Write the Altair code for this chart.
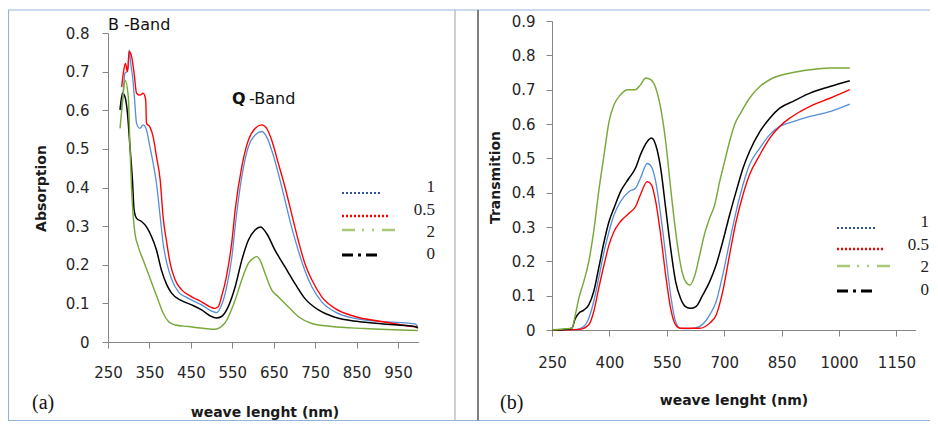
import altair as alt
import pandas as pd

# ---------------- data: panel (a) absorption ----------------
a_blue_nm = [281, 285, 291, 296, 299, 301, 305, 310, 314, 319, 327, 335, 343, 351, 359, 367, 376, 383, 392, 404,
             420, 444, 476, 500, 512, 524, 536, 549, 557, 573, 589, 605, 621, 633, 645, 661, 677, 693, 709, 725,
             742, 766, 798, 846, 910, 959, 991, 998]
a_blue_v = [0.60, 0.627, 0.696, 0.70, 0.713, 0.756, 0.72, 0.68, 0.63, 0.566, 0.553, 0.562, 0.549, 0.506, 0.463,
            0.411, 0.324, 0.256, 0.204, 0.161, 0.130, 0.113, 0.096, 0.080, 0.076, 0.095, 0.14, 0.22, 0.30, 0.428,
            0.506, 0.536, 0.545, 0.531, 0.497, 0.437, 0.368, 0.298, 0.238, 0.186, 0.143, 0.104, 0.078, 0.061,
            0.053, 0.050, 0.047, 0.040]

a_red_nm = [283, 287, 292, 297, 301, 307, 313, 319, 327, 335, 341, 343, 351, 359, 367, 376, 383, 392, 400, 412,
            428, 452, 476, 500, 508, 516, 524, 536, 549, 557, 573, 589, 605, 621, 633, 645, 661, 677, 693, 709,
            725, 742, 766, 798, 846, 910, 959, 998]
a_red_v = [0.66, 0.696, 0.721, 0.70, 0.752, 0.739, 0.696, 0.644, 0.639, 0.644, 0.627, 0.566, 0.557, 0.531, 0.480,
           0.419, 0.324, 0.256, 0.204, 0.161, 0.135, 0.117, 0.104, 0.089, 0.087, 0.091, 0.117, 0.17, 0.26, 0.342,
           0.454, 0.523, 0.553, 0.562, 0.553, 0.523, 0.463, 0.402, 0.333, 0.264, 0.204, 0.161, 0.117, 0.087,
           0.066, 0.053, 0.044, 0.038]

a_black_nm = [279, 285, 291, 297, 303, 309, 313, 319, 331, 343, 355, 367, 379, 392, 404, 424, 452, 476, 500, 512,
              524, 540, 557, 573, 589, 605, 618, 633, 653, 677, 701, 725, 758, 798, 854, 910, 991, 998]
a_black_v = [0.601, 0.644, 0.635, 0.592, 0.506, 0.419, 0.342, 0.320, 0.312, 0.298, 0.273, 0.238, 0.186, 0.148,
             0.126, 0.109, 0.096, 0.083, 0.066, 0.062, 0.066, 0.091, 0.143, 0.212, 0.264, 0.290, 0.298, 0.281,
             0.238, 0.195, 0.152, 0.113, 0.083, 0.064, 0.053, 0.047, 0.040, 0.036]

a_green_nm = [279, 285, 291, 299, 303, 307, 311, 315, 323, 335, 347, 359, 371, 383, 396, 412, 444, 484, 508, 532,
              557, 573, 589, 601, 609, 617, 629, 645, 661, 685, 709, 742, 790, 870, 998]
a_green_v = [0.553, 0.62, 0.678, 0.635, 0.506, 0.394, 0.324, 0.282, 0.247, 0.212, 0.178, 0.143, 0.109, 0.075,
             0.053, 0.044, 0.040, 0.035, 0.033, 0.049, 0.109, 0.161, 0.204, 0.217, 0.221, 0.212, 0.178, 0.135,
             0.117, 0.091, 0.066, 0.048, 0.040, 0.035, 0.030]

# ---------------- data: panel (b) transmission ----------------
b_blue_nm = [250, 316, 333, 346, 359, 372, 386, 399, 412, 429, 451, 468, 481, 499, 510, 521, 534, 547, 560, 573,
             586, 610, 635, 662, 679, 696, 714, 731, 749, 766, 793, 819, 845, 880, 924, 976, 1028]
b_blue_v = [0, 0.002, 0.010, 0.034, 0.083, 0.151, 0.228, 0.287, 0.335, 0.374, 0.403, 0.413, 0.442, 0.485, 0.475,
            0.432, 0.335, 0.219, 0.102, 0.024, 0.005, 0.004, 0.010, 0.044, 0.083, 0.160, 0.257, 0.345, 0.423,
            0.481, 0.530, 0.569, 0.593, 0.607, 0.622, 0.636, 0.658]

b_red_nm = [250, 323, 346, 359, 372, 386, 399, 412, 429, 451, 468, 481, 499, 510, 521, 534, 547, 560, 573, 586,
            635, 662, 679, 696, 714, 731, 749, 766, 793, 819, 845, 871, 898, 932, 976, 1028]
b_red_v = [0, 0.002, 0.015, 0.053, 0.121, 0.190, 0.248, 0.287, 0.316, 0.340, 0.359, 0.394, 0.432, 0.423, 0.374,
           0.277, 0.160, 0.063, 0.015, 0.005, 0.005, 0.020, 0.044, 0.112, 0.219, 0.316, 0.394, 0.452, 0.510,
           0.559, 0.593, 0.617, 0.636, 0.656, 0.675, 0.700]

b_black_nm = [250, 290, 302, 311, 320, 333, 346, 359, 372, 386, 399, 412, 429, 451, 468, 481, 499, 510, 521, 534,
              547, 560, 573, 586, 599, 612, 626, 644, 662, 679, 696, 714, 731, 749, 766, 793, 819, 845, 880, 924,
              976, 1028]
b_black_v = [0, 0.002, 0.005, 0.034, 0.049, 0.058, 0.073, 0.112, 0.180, 0.257, 0.316, 0.355, 0.403, 0.442, 0.471,
             0.510, 0.549, 0.559, 0.539, 0.471, 0.355, 0.238, 0.141, 0.092, 0.068, 0.063, 0.068, 0.102, 0.141,
             0.190, 0.257, 0.335, 0.403, 0.471, 0.520, 0.578, 0.617, 0.646, 0.666, 0.690, 0.709, 0.726]

b_green_nm = [250, 280, 302, 311, 320, 333, 346, 359, 372, 386, 399, 412, 429, 447, 468, 481, 495, 508, 521, 534,
              547, 560, 573, 586, 599, 611, 622, 635, 648, 662, 675, 688, 701, 714, 727, 745, 766, 793, 827, 871,
              924, 976, 1028]
b_green_v = [0, 0.003, 0.005, 0.044, 0.092, 0.141, 0.199, 0.287, 0.403, 0.510, 0.607, 0.656, 0.685, 0.700, 0.700,
             0.714, 0.734, 0.729, 0.705, 0.646, 0.549, 0.413, 0.287, 0.190, 0.141, 0.131, 0.155, 0.214, 0.277,
             0.326, 0.364, 0.432, 0.491, 0.549, 0.598, 0.636, 0.675, 0.709, 0.734, 0.748, 0.758, 0.763, 0.763]

series_names = ["1", "0.5", "2", "0"]
line_colors = ["#558ED5", "#FF0000", "#79A83A", "#000000"]
line_widths = [1.3, 1.5, 3.2, 1.6]
legend_colors = ["#2F5597", "#FF0000", "#A9C97A", "#000000"]
legend_dashes = [[2, 2], [2, 2], [13, 7, 2, 8, 2, 8], [11, 5, 3, 5]]
legend_widths = [2.2, 2.5, 2.5, 3]

a_x_ticks = [250, 350, 450, 550, 650, 750, 850, 950]
a_y_ticks = [0, 0.1, 0.2, 0.3, 0.4, 0.5, 0.6, 0.7, 0.8]
b_x_ticks = [250, 400, 550, 700, 850, 1000, 1150]
b_y_ticks = [0, 0.1, 0.2, 0.3, 0.4, 0.5, 0.6, 0.7, 0.8, 0.9]


def long_table(parts):
    rows = []
    for name, xs, ys in parts:
        for x, y in zip(xs, ys):
            rows.append({"nm": x, "v": y, "s": name})
    return pd.DataFrame(rows)


df_a = long_table([("1", a_blue_nm, a_blue_v), ("0.5", a_red_nm, a_red_v),
                   ("0", a_black_nm, a_black_v), ("2", a_green_nm, a_green_v)])
df_b = long_table([("1", b_blue_nm, b_blue_v), ("0.5", b_red_nm, b_red_v),
                   ("0", b_black_nm, b_black_v), ("2", b_green_nm, b_green_v)])

W, H = 922, 413

axis_common = dict(grid=False, domainColor="#868686", tickColor="#868686", tickSize=6,
                   labelFont="DejaVu Sans", labelFontSize=15, labelColor="#262626",
                   titleFont="DejaVu Sans", titleFontSize=14, titleFontWeight="bold",
                   titleColor="#1a1a1a", labelFlush=False, labelOverlap=False,
                   titleBaseline="middle", titleAlign="center")

color_enc = alt.Color("s:N", scale=alt.Scale(domain=series_names, range=line_colors), legend=None)
width_enc = alt.StrokeWidth("s:N", scale=alt.Scale(domain=series_names, range=line_widths), legend=None)

# panel (a)
ax_x0, ax_x1, ay_bot, ay_top = 100, 410.7, 334, 25
lines_a = alt.Chart(df_a).mark_line(interpolate="monotone").encode(
    x=alt.X("nm:Q", scale=alt.Scale(domain=[250, 1000], range=[ax_x0, ax_x1], nice=False),
            axis=alt.Axis(orient="bottom", offset=ay_bot - H, values=a_x_ticks, format="d", labelPadding=17,
                          title="weave lenght (nm)", titleX=256.5, titleY=70, **axis_common)),
    y=alt.Y("v:Q", scale=alt.Scale(domain=[0, 0.8], range=[ay_bot, ay_top], nice=False, zero=False),
            axis=alt.Axis(orient="left", offset=-ax_x0, values=a_y_ticks, format=".1~f", labelPadding=13,
                          title="Absorption", titleX=-67, titleY=180, titleAngle=270, **axis_common)),
    color=color_enc, strokeWidth=width_enc, detail="s:N")

# panel (b)
bx_x0, bx_x1, by_bot, by_top = 544, 907.6, 322, 13
lines_b = alt.Chart(df_b).mark_line(interpolate="monotone").encode(
    x=alt.X("nm:Q", scale=alt.Scale(domain=[250, 1200], range=[bx_x0, bx_x1], nice=False),
            axis=alt.Axis(orient="bottom", offset=by_bot - H, values=b_x_ticks, format="d", labelPadding=19,
                          title="weave lenght (nm)", titleX=725.5, titleY=70, **axis_common)),
    y=alt.Y("v:Q", scale=alt.Scale(domain=[0, 0.9], range=[by_bot, by_top], nice=False, zero=False),
            axis=alt.Axis(orient="left", offset=-bx_x0, values=b_y_ticks, format=".1~f", labelPadding=11,
                          title="Transmition", titleX=-57, titleY=169, titleAngle=270, **axis_common)),
    color=color_enc, strokeWidth=width_enc, detail="s:N")

one = pd.DataFrame({"k": [0]})


def rule(x, y, x2=None, y2=None, color="#000", width=1.0, dash=None):
    kw = dict(color=color, strokeWidth=width)
    if dash is not None:
        kw["strokeDash"] = dash
    enc = dict(x=alt.value(x), y=alt.value(y))
    if x2 is not None:
        enc["x2"] = alt.value(x2)
    if y2 is not None:
        enc["y2"] = alt.value(y2)
    return alt.Chart(one).mark_rule(**kw).encode(**enc)


def label(txt, x, y, size, font, weight="normal", align="left", color="#111111"):
    return alt.Chart(pd.DataFrame({"t": [txt]})).mark_text(
        text=txt, font=font, fontSize=size, fontWeight=weight, align=align, baseline="middle", color=color
    ).encode(x=alt.value(x), y=alt.value(y))


def legend(x0, ends, ys, lab_x, lab_ys):
    out = []
    for i, name in enumerate(series_names):
        out.append(rule(x0, ys[i], x2=ends[i], color=legend_colors[i], width=legend_widths[i],
                        dash=legend_dashes[i]))
        out.append(label(name, lab_x, lab_ys[i], 17, "Liberation Serif", align="right", color="#222222"))
    return out


frame = [
    rule(0, 2, x2=W, color="#95B3D7", width=1.2),
    rule(0.5, 2, y2=412.5, color="#95B3D7", width=1.2),
    rule(0, 412.5, x2=W, color="#95B3D7", width=1.2),
    rule(447, 2, y2=412.5, color="#B0B0B0", width=1.2),
    rule(470, 2, y2=412.5, color="#7F7F7F", width=2),
]

texts = [
    label("B -Band", 100, 17, 16, "DejaVu Sans"),
    label("Q", 224, 91, 16, "DejaVu Sans", weight="bold"),
    label("-Band", 241, 91, 16, "DejaVu Sans"),
    label("(a)", 24, 395, 20, "Liberation Serif"),
    label("(b)", 492, 395, 20, "Liberation Serif"),
]

leg_a = legend(334, [374, 382, 392, 370], [185, 208, 222, 247], 427, [179, 202, 224, 246])
leg_b = legend(829, [867, 875, 885, 865], [220, 241, 258, 283], 921, [214, 237, 259, 282])

chart = alt.layer(lines_a, lines_b, *frame, *texts, *leg_a, *leg_b).resolve_scale(
    x="independent", y="independent"
).properties(
    width=W, height=H, autosize=alt.AutoSizeParams(type="none"), padding=0, background="white"
).configure_view(stroke=None)

chart.save("out.html", embed_options={"renderer": "svg", "actions": False})
